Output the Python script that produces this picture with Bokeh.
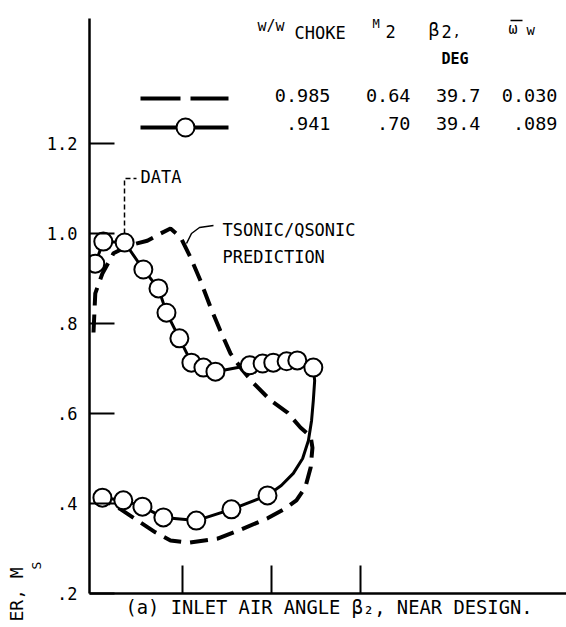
from bokeh.plotting import figure
from bokeh.models import Label, FixedTicker, Range1d, Title
from bokeh.embed import file_html
from bokeh.resources import INLINE

# ---------------- data ----------------
# measured surface Mach numbers (DATA), suction surface, leading edge -> trailing edge
suc_x = [0.004, 0.022, 0.070, 0.112, 0.146, 0.164, 0.193, 0.220, 0.247, 0.274,
         0.351, 0.380, 0.404, 0.434, 0.458, 0.494]
suc_y = [0.933, 0.982, 0.980, 0.920, 0.878, 0.824, 0.767, 0.713, 0.702, 0.693,
         0.707, 0.711, 0.713, 0.716, 0.718, 0.702]
# faired data line around the trailing edge (no symbols)
te_x = [0.497, 0.494, 0.490, 0.483, 0.470, 0.449, 0.422]
te_y = [0.673, 0.629, 0.584, 0.540, 0.500, 0.467, 0.440]
# measured pressure surface, trailing edge -> leading edge
pre_x = [0.391, 0.310, 0.231, 0.157, 0.110, 0.067, 0.020]
pre_y = [0.418, 0.387, 0.362, 0.369, 0.393, 0.407, 0.413]

# TSONIC/QSONIC prediction (dashed), suction LE -> TE -> pressure LE
pred_x = [0.000, 0.004, 0.020, 0.045, 0.079, 0.121, 0.151, 0.173, 0.196, 0.218,
          0.240, 0.263, 0.285, 0.308, 0.335, 0.360, 0.398, 0.436, 0.465, 0.488,
          0.492, 0.488, 0.476, 0.456, 0.431, 0.391, 0.326, 0.279, 0.213, 0.173,
          0.139, 0.099, 0.058, 0.034, 0.007]
pred_y = [0.780, 0.867, 0.911, 0.956, 0.973, 0.984, 1.000, 1.011, 0.991, 0.947,
          0.896, 0.836, 0.784, 0.733, 0.696, 0.667, 0.629, 0.602, 0.569, 0.549,
          0.524, 0.480, 0.436, 0.407, 0.389, 0.367, 0.340, 0.322, 0.313, 0.318,
          0.336, 0.362, 0.389, 0.402, 0.407]

y_ticks = [0.2, 0.4, 0.6, 0.8, 1.0, 1.2]
y_tick_labels = [".2", ".4", ".6", ".8", "1.0", "1.2"]
x_ticks = [0.2, 0.4, 0.6]

legend_flow = ["0.985", ".941"]
legend_m2 = ["0.64", ".70"]
legend_beta = ["39.7", "39.4"]
legend_loss = ["0.030", ".089"]

caption = "(a) INLET AIR ANGLE β₂,  NEAR DESIGN."
ylabel_main = "ER, M"
ylabel_sub = "S"

FONT = "DejaVu Sans Mono"

# ---------------- helpers: page pixel -> data (for annotation placement) ----
def dx(px):
    return (px - 93.0) / 445.0

def dy(py):
    return 0.2 + (593.0 - py) / 450.0

p = figure(width=566, height=627, output_backend="svg", toolbar_location=None,
           x_range=Range1d(dx(89), dx(566)), y_range=Range1d(dy(593), dy(18)),
           min_border_left=89, min_border_right=0, min_border_top=18,
           min_border_bottom=34)
p.outline_line_color = None
p.grid.visible = False
p.background_fill_color = "white"
p.border_fill_color = "white"

# axes
p.yaxis.ticker = FixedTicker(ticks=y_ticks)
p.yaxis.major_label_overrides = {t: s for t, s in zip(y_ticks, y_tick_labels)}
p.yaxis.major_tick_in = 25
p.yaxis.major_tick_out = 0
p.yaxis.minor_tick_line_color = None
p.yaxis.axis_line_width = 2.5
p.yaxis.major_tick_line_width = 2
p.yaxis.major_label_text_font = FONT
p.yaxis.major_label_text_font_size = "17px"
p.yaxis.major_label_text_color = "black"
p.yaxis.major_label_standoff = 12

p.xaxis.ticker = FixedTicker(ticks=x_ticks)
p.xaxis.major_label_overrides = {t: "" for t in x_ticks}
p.xaxis.major_tick_in = 28
p.xaxis.major_tick_out = 0
p.xaxis.minor_tick_line_color = None
p.xaxis.axis_line_width = 2.5
p.xaxis.major_tick_line_width = 2
p.xaxis.major_label_text_font_size = "1px"
p.xaxis.major_label_standoff = 0

# side texts (axis title cut by the page edge, and the caption)
p.add_layout(Title(text=ylabel_sub, align="left", offset=24, text_font=FONT,
                   text_font_size="13px", text_font_style="normal",
                   text_color="black", standoff=0), "left")
p.add_layout(Title(text=ylabel_main, align="left", offset=-28, text_font=FONT,
                   text_font_size="18px", text_font_style="normal",
                   text_color="black", standoff=0), "left")
p.add_layout(Title(text=caption, align="left", offset=36, text_font=FONT,
                   text_font_size="18.8px", text_font_style="normal",
                   text_color="black", standoff=3), "below")

# prediction (dashed)
p.line(pred_x, pred_y, line_color="black", line_width=4, line_dash="18 9")

# data line + symbols
p.line(suc_x + te_x + pre_x, suc_y + te_y + pre_y, line_color="black", line_width=3)
p.scatter(suc_x + pre_x, suc_y + pre_y, size=18, marker="circle",
          fill_color="white", line_color="black", line_width=2)

# ---------------- legend table ----------------
p.line([dx(140), dx(180)], [dy(98), dy(98)], line_color="black", line_width=4)
p.line([dx(190), dx(228)], [dy(98), dy(98)], line_color="black", line_width=4)
p.line([dx(140), dx(228)], [dy(127), dy(127)], line_color="black", line_width=4)
p.scatter([dx(185)], [dy(127)], size=18, marker="circle",
          fill_color="white", line_color="black", line_width=2)


def txt(px, py, s, size, align="left", baseline="middle", style="normal"):
    p.add_layout(Label(x=dx(px), y=dy(py), text=s, text_font=FONT,
                       text_font_size=f"{size}px", text_align=align,
                       text_baseline=baseline, text_color="black",
                       text_font_style=style))


txt(257, 25, "w/w", 15)
txt(294, 32, "CHOKE", 17)
txt(372, 23, "M", 12)
txt(385, 31, "2", 17)
txt(428, 29, "β", 18)
txt(441, 31, "2", 17)
txt(452, 30, ",", 14)
txt(508, 28, "ω", 15)
p.line([dx(510), dx(522)], [dy(20), dy(20)], line_color="black", line_width=1.5)
txt(526, 29, "w", 14)
txt(441, 58, "DEG", 15, style="bold")

for i, ry in enumerate([95, 123]):
    txt(330, ry, legend_flow[i], 18.5, align="right")
    txt(410, ry, legend_m2[i], 18.5, align="right")
    txt(480, ry, legend_beta[i], 18.5, align="right")
    txt(557, ry, legend_loss[i], 18.5, align="right")

# ---------------- annotations ----------------
p.line([dx(124), dx(124), dx(136)], [dy(233), dy(178), dy(178)],
       line_color="black", line_width=1.5, line_dash="5 3")
txt(140, 176, "DATA", 17)
p.line([dx(186), dx(191), dx(199), dx(213)], [dy(243), dy(233), dy(227), dy(225)],
       line_color="black", line_width=1.5)
txt(222, 229, "TSONIC/QSONIC", 17)
txt(222, 256, "PREDICTION", 17)

open("out.html", "w").write(file_html(p, INLINE))
